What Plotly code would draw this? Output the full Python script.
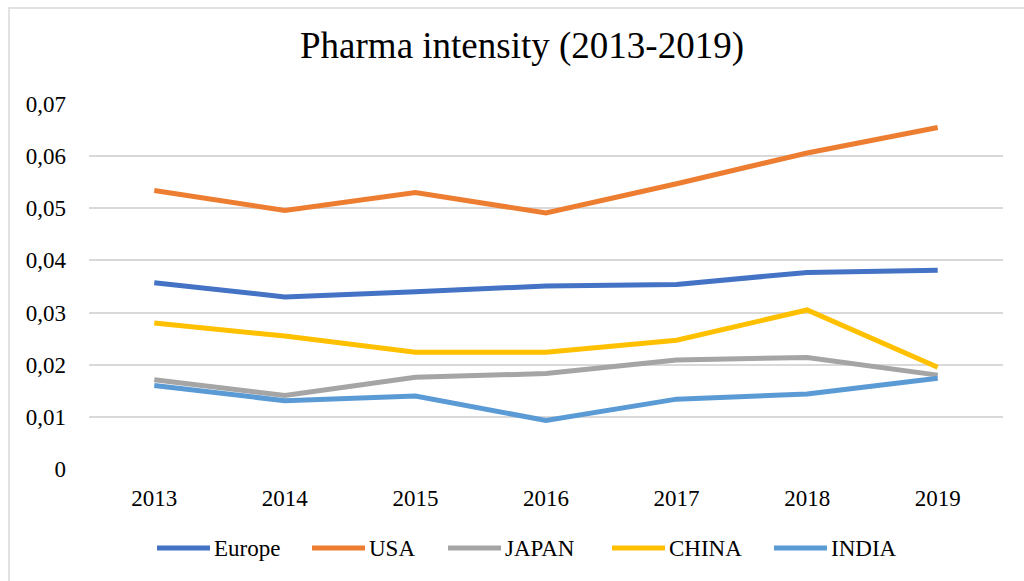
import plotly.graph_objects as go

# Years on the category axis
years = ["2013", "2014", "2015", "2016", "2017", "2018", "2019"]

# Pharma intensity by region
europe = [0.0357, 0.0330, 0.0340, 0.0351, 0.0354, 0.0377, 0.0381]
usa = [0.0534, 0.0496, 0.0530, 0.0491, 0.0547, 0.0606, 0.0655]
japan = [0.0171, 0.0141, 0.0176, 0.0183, 0.0209, 0.0214, 0.0180]
china = [0.0280, 0.0255, 0.0224, 0.0224, 0.0247, 0.0305, 0.0195]
india = [0.0160, 0.0131, 0.0140, 0.0093, 0.0134, 0.0144, 0.0174]

# Y axis ticks (comma decimal separator)
y_tickvals = [0, 0.01, 0.02, 0.03, 0.04, 0.05, 0.06, 0.07]
y_ticktext = ["0", "0,01", "0,02", "0,03", "0,04", "0,05", "0,06", "0,07"]

series_names = ["Europe", "USA", "JAPAN", "CHINA", "INDIA"]
series_values = [europe, usa, japan, china, india]
series_colors = ["#4472C4", "#ED7D31", "#A5A5A5", "#FFC000", "#5B9BD5"]

FONT = "Liberation Serif, Times New Roman, serif"

W, H = 1024, 581
ML, MR, MT, MB = 89, 21, 104, 112
pw, ph = W - ML - MR, H - MT - MB


def px_x(p):
    return (p - ML) / pw


def px_y(p):
    return (H - MB - p) / ph


fig = go.Figure()
for name, vals, color in zip(series_names, series_values, series_colors):
    fig.add_trace(go.Scatter(
        x=years, y=vals, name=name, mode="lines",
        line=dict(color=color, width=5),
        showlegend=False,
    ))

# Legend row below the plot: a line sample followed by the series name
legend_starts = [157, 312, 448, 612, 774]
legend_y = 548
shapes = [dict(
    type="rect", xref="paper", yref="paper",
    x0=px_x(9), x1=px_x(1100), y0=px_y(700), y1=px_y(8),
    line=dict(color="#D9D9D9", width=1.5), fillcolor="rgba(0,0,0,0)",
    layer="below",
)]
annotations = []
for name, color, x0 in zip(series_names, series_colors, legend_starts):
    shapes.append(dict(
        type="line", xref="paper", yref="paper",
        x0=px_x(x0), x1=px_x(x0 + 53), y0=px_y(legend_y), y1=px_y(legend_y),
        line=dict(color=color, width=5),
    ))
    annotations.append(dict(
        text=name, xref="paper", yref="paper",
        x=px_x(x0 + 55), y=px_y(legend_y),
        xanchor="left", yanchor="middle", showarrow=False,
        font=dict(family=FONT, size=23, color="#000000"),
    ))

fig.update_layout(
    width=W, height=H,
    margin=dict(l=ML, r=MR, t=MT, b=MB),
    paper_bgcolor="white", plot_bgcolor="white",
    font=dict(family=FONT, size=23, color="#000000"),
    title=dict(
        text="Pharma intensity (2013-2019)",
        font=dict(family=FONT, size=37, color="#000000"),
        x=522 / W, xanchor="center", xref="container",
        y=1 - 45 / H, yanchor="middle", yref="container",
    ),
    showlegend=False,
    xaxis=dict(
        type="category", range=[-0.5, 6.5],
        showgrid=False, showline=False, zeroline=False,
        ticks="", ticklabelstandoff=13,
        tickfont=dict(family=FONT, size=23),
    ),
    yaxis=dict(
        range=[0, 0.07],
        tickvals=y_tickvals, ticktext=y_ticktext,
        showgrid=True, gridcolor="#D9D9D9", gridwidth=1.5,
        zeroline=False, showline=False,
        ticks="", ticklabelstandoff=22,
        tickfont=dict(family=FONT, size=23),
    ),
    shapes=shapes,
    annotations=annotations,
)

fig.write_html("out.html")
